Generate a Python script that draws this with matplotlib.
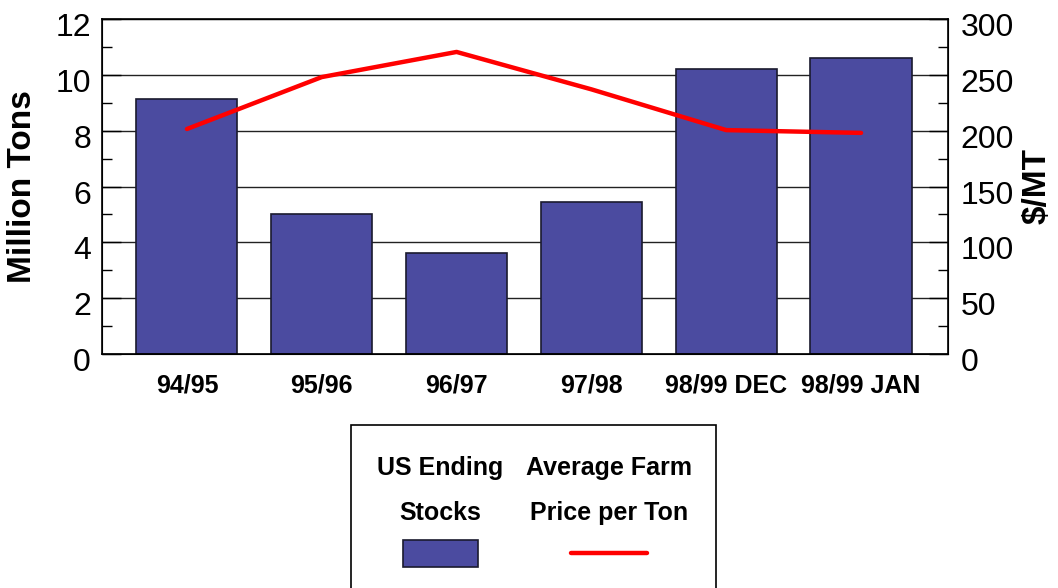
import matplotlib
matplotlib.use("Agg")
import matplotlib.pyplot as plt
import matplotlib.transforms as mtransforms
from matplotlib.patches import Rectangle
from matplotlib.lines import Line2D
from matplotlib.ticker import MultipleLocator

plt.rcParams['font.family'] = ['Liberation Sans', 'DejaVu Sans']

categories = ["94/95", "95/96", "96/97", "97/98", "98/99 DEC", "98/99 JAN"]
stocks = [9.13, 5.01, 3.62, 5.44, 10.21, 10.60]
price = [201.5, 248, 270.5, 237, 200.5, 198]
left_ticks = [0, 2, 4, 6, 8, 10, 12]
right_ticks = [0, 50, 100, 150, 200, 250, 300]

bar_color = "#4B4BA0"
line_color = "#FF0000"

W, H = 1058, 588
fig = plt.figure(figsize=(W/100, H/100), dpi=100)
L, R, T, B = 102, 948, 19, 354
ax = fig.add_axes([L/W, 1-B/H, (R-L)/W, (B-T)/H])
x = list(range(len(categories)))

ax.bar(x, stocks, width=0.75, color=bar_color, edgecolor="#1a1a2e", linewidth=1.2, zorder=2)
ax.set_xlim(-0.63, 5.645)
ax.set_ylim(0, 12)
ax.set_yticks(left_ticks)
ax.yaxis.set_minor_locator(MultipleLocator(1))
ax.grid(axis='y', which='major', color='#222222', linewidth=1.0, zorder=0)
ax.set_axisbelow(True)
ax.set_xticks(x)
ax.set_xticklabels(categories, fontsize=18, fontweight='bold')
ax.tick_params(axis='x', direction='in', length=14, width=1, pad=14)
ax.tick_params(axis='y', which='major', direction='in', length=14, width=1, labelsize=23, pad=8)
ax.tick_params(axis='y', which='minor', direction='in', length=7, width=1)
ax.set_ylabel("Million Tons", fontsize=24, fontweight='bold')
ax.yaxis.label.set_va('center')
ax.yaxis.set_label_coords((23-L)/(R-L), 0.5)
for s in ax.spines.values():
    s.set_linewidth(1.2)
    s.set_color('black')

ax2 = ax.twinx()
ax2.plot(x, price, color=line_color, linewidth=3.2, solid_capstyle='round', zorder=3)
ax2.set_ylim(0, 300)
ax2.set_yticks(right_ticks)
ax2.yaxis.set_minor_locator(MultipleLocator(25))
ax2.tick_params(axis='y', which='major', direction='in', length=14, width=1, labelsize=23, pad=9)
ax2.tick_params(axis='y', which='minor', direction='in', length=7, width=1)
ax2.set_ylabel("$/MT", fontsize=24, fontweight='bold')
ax2.yaxis.label.set_va('center')
ax2.yaxis.set_label_coords((1037-L)/(R-L), 0.5)

# shift y tick labels slightly downward as in the reference
off = mtransforms.ScaledTranslation(0, -5.5/100, fig.dpi_scale_trans)
for lab in ax.get_yticklabels() + ax2.get_yticklabels():
    lab.set_transform(lab.get_transform() + off)

# Legend box drawn manually
fig.add_artist(Rectangle((351/W, -0.05), (716-351)/W, 0.05 + (H-425)/H,
                         transform=fig.transFigure, facecolor='white', edgecolor='black',
                         linewidth=1.2, clip_on=False))
fig.text(440/W, 1-468/H, "US Ending", ha='center', va='center', fontsize=18, fontweight='bold')
fig.text(440/W, 1-513/H, "Stocks", ha='center', va='center', fontsize=18, fontweight='bold')
fig.text(609/W, 1-468/H, "Average Farm", ha='center', va='center', fontsize=18, fontweight='bold')
fig.text(609/W, 1-513/H, "Price per Ton", ha='center', va='center', fontsize=18, fontweight='bold')
fig.add_artist(Rectangle((403/W, 1-567/H), 75/W, 27/H, transform=fig.transFigure,
                         facecolor=bar_color, edgecolor='#1a1a2e', linewidth=1.2))
fig.add_artist(Line2D([571/W, 647/W], [1-553/H, 1-553/H], transform=fig.transFigure,
                      color=line_color, linewidth=3.2, solid_capstyle='round'))

fig.savefig("out.png", dpi=100)
